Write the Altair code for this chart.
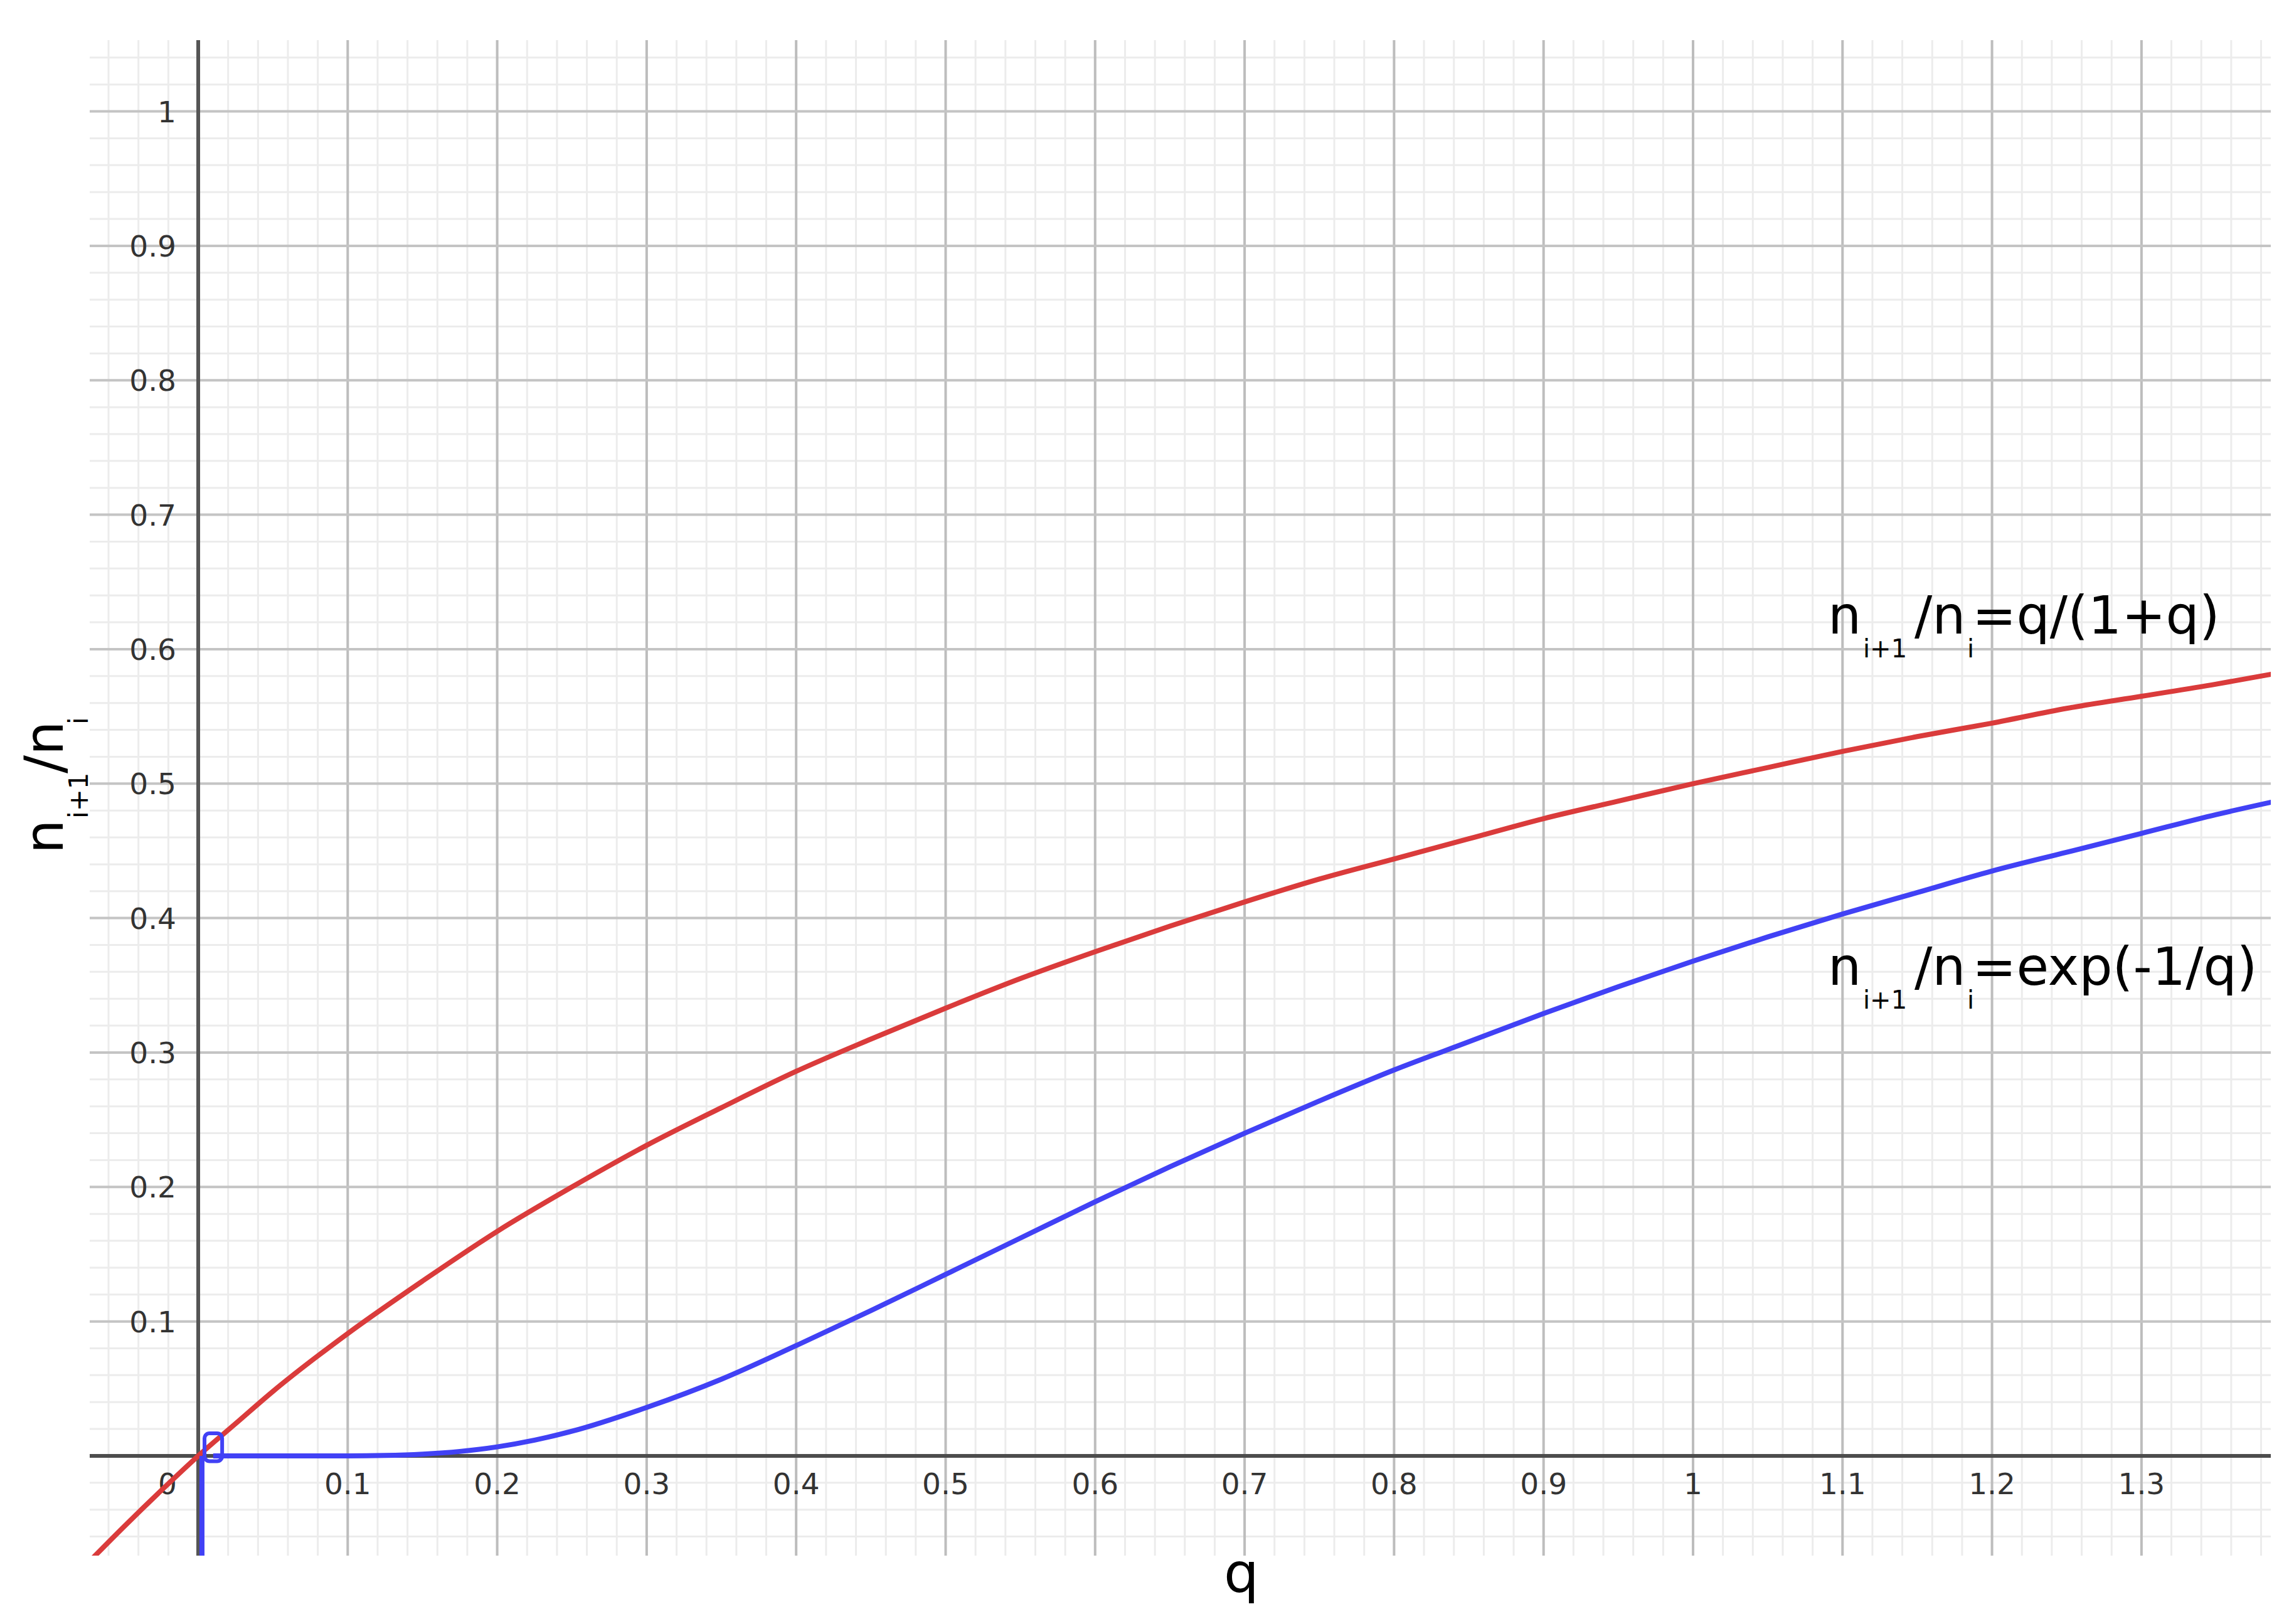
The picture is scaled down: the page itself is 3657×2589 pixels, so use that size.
import altair as alt
import pandas as pd

# Werte aus der Abbildung abgelesen
# rote Kurve  n_{i+1}/n_i = q/(1+q)
red_q = [-0.075, -0.05, -0.025, 0.0, 0.025, 0.05, 0.1, 0.15, 0.2, 0.25, 0.3, 0.35, 0.4, 0.45,
         0.5, 0.55, 0.6, 0.65, 0.7, 0.75, 0.8, 0.85, 0.9, 0.95, 1.0, 1.05, 1.1, 1.15, 1.2,
         1.25, 1.3, 1.35, 1.39]
red_v = [-0.081, -0.053, -0.026, 0.0, 0.024, 0.048, 0.091, 0.130, 0.167, 0.200, 0.231, 0.259,
         0.286, 0.310, 0.333, 0.355, 0.375, 0.394, 0.412, 0.429, 0.444, 0.459, 0.474, 0.487,
         0.500, 0.512, 0.524, 0.535, 0.545, 0.556, 0.565, 0.574, 0.582]

# blaue Kurve  n_{i+1}/n_i = exp(-1/q)
blue_q = [0.01, 0.05, 0.1, 0.125, 0.15, 0.175, 0.2, 0.225, 0.25, 0.3, 0.35, 0.4, 0.45, 0.5,
          0.55, 0.6, 0.65, 0.7, 0.75, 0.8, 0.85, 0.9, 0.95, 1.0, 1.05, 1.1, 1.15, 1.2, 1.25,
          1.3, 1.35, 1.39]
blue_v = [0.0, 0.0, 0.0, 0.0003, 0.0013, 0.0033, 0.0067, 0.0117, 0.0183, 0.036, 0.057, 0.082,
          0.108, 0.135, 0.162, 0.189, 0.215, 0.240, 0.264, 0.287, 0.308, 0.329, 0.349, 0.368,
          0.386, 0.403, 0.419, 0.435, 0.449, 0.463, 0.477, 0.487]

# senkrechter Ast der blauen Kurve bei q ~ 0 und das kleine Kaestchen am Ursprung
drop_q = [0.0025]
drop_top = [0.0]
drop_bottom = [-0.08]
box_q = [0.0042]
box_q2 = [0.016]
box_v = [-0.004]
box_v2 = [0.0168]

# Achsenbeschriftungen
x_ticks = [0, 0.1, 0.2, 0.3, 0.4, 0.5, 0.6, 0.7, 0.8, 0.9, 1, 1.1, 1.2, 1.3]
y_ticks = [0.1, 0.2, 0.3, 0.4, 0.5, 0.6, 0.7, 0.8, 0.9, 1]

# Gitter: Hauptlinien alle 0.1, Nebenlinien alle 0.02
major_x = [round(0.1 * k, 1) for k in range(14)]
minor_x = [round(-0.06 + 0.02 * k, 2) for k in range(73)]
major_y = [round(0.1 * k, 1) for k in range(11)]
minor_y = [round(-0.06 + 0.02 * k, 2) for k in range(56)]

# Formeltexte (Hauptteil / Index)
label_red = ["n", "i+1", "/n", "i", "=q/(1+q)"]
label_blue = ["n", "i+1", "/n", "i", "=exp(-1/q)"]
y_title = ["n", "i+1", "/n", "i"]
x_title = "q"

FONT = "DejaVu Sans"
RED = "#da3b3b"
BLUE = "#4141f5"
TICK = "#333333"
W, H = 3477, 2416
X0_PX = 173    # Pixelposition der y-Achse (q = 0)
Y0_PX = 2257   # Pixelposition der x-Achse (Wert = 0)

xs = alt.Scale(domain=[-0.0726, 1.3865], nice=False, zero=False)
ys = alt.Scale(domain=[-0.0742, 1.053], nice=False, zero=False)


def grid(values, channel, color, width):
    df = pd.DataFrame({"v": values})
    if channel == "x":
        enc = {"x": alt.X("v:Q", scale=xs, axis=None)}
    else:
        enc = {"y": alt.Y("v:Q", scale=ys, axis=None)}
    return alt.Chart(df).mark_rule(color=color, strokeWidth=width).encode(**enc)


def formula(pieces, x0, y0, offsets, main=84, sub=40, drop=38, angle=0):
    parts = []
    for k, (txt, dx) in enumerate(zip(pieces, offsets)):
        is_sub = k in (1, 3)
        parts.append(
            alt.Chart(pd.DataFrame({"t": [txt]})).mark_text(
                align="left", baseline="alphabetic", font=FONT, color="black",
                fontSize=sub if is_sub else main, dx=dx, dy=drop if is_sub else 0,
                angle=angle,
            ).encode(text="t:N", x=alt.value(x0), y=alt.value(y0))
        )
    return parts


layers = [
    grid(minor_x, "x", "#ececec", 3),
    grid(minor_y, "y", "#ececec", 3),
    grid(major_x, "x", "#bdbdbd", 4),
    grid(major_y, "y", "#c4c4c4", 4),
    grid([0], "x", "#555555", 6),
    grid([0], "y", "#4d4d4d", 6),
]

# Zahlen an den Achsen (an den Nulllinien, wie in GeoGebra)
xlab = alt.Chart(pd.DataFrame({"t": x_ticks}))
layers.append(
    xlab.transform_filter("datum.t != 0").mark_text(
        align="center", baseline="top", font=FONT, fontSize=47, color=TICK
    ).encode(x=alt.X("t:Q", scale=xs, axis=None), y=alt.value(Y0_PX + 24),
             text=alt.Text("t:Q", format="~g"))
)
layers.append(
    xlab.transform_filter("datum.t == 0").mark_text(
        align="center", baseline="top", font=FONT, fontSize=47, color=TICK, dx=-49
    ).encode(x=alt.X("t:Q", scale=xs, axis=None), y=alt.value(Y0_PX + 24),
             text=alt.Text("t:Q", format="~g"))
)
layers.append(
    alt.Chart(pd.DataFrame({"t": y_ticks})).mark_text(
        align="right", baseline="middle", font=FONT, fontSize=47, color=TICK, dy=3
    ).encode(y=alt.Y("t:Q", scale=ys, axis=None), x=alt.value(X0_PX - 35),
             text=alt.Text("t:Q", format="~g"))
)

red = alt.Chart(pd.DataFrame({"q": red_q, "v": red_v})).mark_line(
    color=RED, strokeWidth=8, clip=True, interpolate="monotone"
).encode(
    x=alt.X("q:Q", scale=xs, axis=None),
    y=alt.Y("v:Q", scale=ys, axis=None),
)

blue = alt.Chart(pd.DataFrame({"q": blue_q, "v": blue_v})).mark_line(
    color=BLUE, strokeWidth=8, clip=True, interpolate="monotone"
).encode(
    x=alt.X("q:Q", scale=xs, axis=None),
    y=alt.Y("v:Q", scale=ys, axis=None),
)

drop = alt.Chart(pd.DataFrame({"q": drop_q, "a": drop_top, "b": drop_bottom})).mark_rule(
    color=BLUE, strokeWidth=8, clip=True
).encode(
    x=alt.X("q:Q", scale=xs, axis=None),
    y=alt.Y("a:Q", scale=ys, axis=None),
    y2="b:Q",
)

box = alt.Chart(pd.DataFrame({"q": box_q, "q2": box_q2, "v": box_v, "v2": box_v2})).mark_rect(
    filled=False, color=BLUE, strokeWidth=6, cornerRadius=8
).encode(
    x=alt.X("q:Q", scale=xs, axis=None),
    x2="q2:Q",
    y=alt.Y("v:Q", scale=ys, axis=None),
    y2="v2:Q",
)

layers += [red, blue, drop, box]

# Formeln rechts neben den Kurven
layers += formula(label_red, 2771, 946, [0, 56, 138, 222, 230])
layers += formula(label_blue, 2771, 1506, [0, 56, 138, 222, 230])

# Achsentitel
layers += formula(y_title, -43, 1297, [0, 56, 128, 206], main=86, sub=42, drop=40, angle=270)
layers.append(
    alt.Chart(pd.DataFrame({"t": [x_title]})).mark_text(
        align="center", baseline="alphabetic", font=FONT, fontSize=88, color="black"
    ).encode(text="t:N", x=alt.value(1836), y=alt.value(2474))
)

chart = alt.layer(*layers).properties(
    width=W,
    height=H,
    autosize=alt.AutoSizeParams(type="none"),
    padding={"left": 135, "top": 56, "right": 29, "bottom": 100},
    background="white",
).configure_view(strokeWidth=0)

chart.save("out.html", embed_options={"renderer": "svg", "actions": False})
